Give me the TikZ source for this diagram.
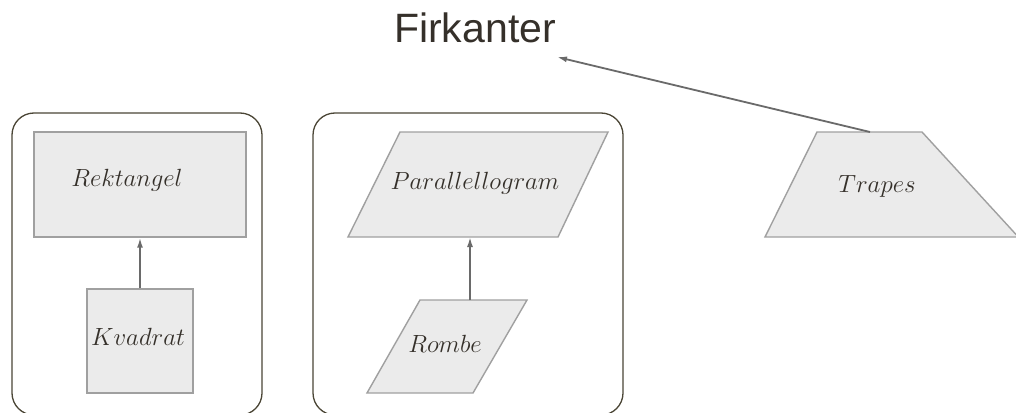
\documentclass[tikz,border=0pt]{standalone}
\usepackage{fontspec}
\newfontfamily\headfont{Liberation Sans}
\usetikzlibrary{arrows.meta}
\definecolor{shapefill}{HTML}{EBEBEB}
\definecolor{shapeline}{HTML}{A0A0A0}
\definecolor{groupline}{HTML}{4B4636}
\definecolor{linkline}{HTML}{6A6A6A}
\definecolor{labeltext}{HTML}{35302A}
\tikzset{
  shapebox/.style={fill=shapefill, draw=shapeline, line width=1.4pt},
  groupbox/.style={draw=groupline, line width=1.3pt, rounded corners=22pt},
  lbl/.style={anchor=base, text=labeltext, inner sep=0pt,
    font=\fontsize{23}{28}\selectfont},
  link/.style={draw=linkline, line width=1.8pt,
    -{Latex[length=10pt,width=6pt]}},
}
\begin{document}
\begin{tikzpicture}[x=1pt,y=-1pt]
\clip (0,0) rectangle (1016,412);
\fill[white] (0,0) rectangle (1016,412);

% title
\node[anchor=base, inner sep=0pt, text=labeltext,
  font=\headfont\fontsize{41}{48}\selectfont] (firk) at (475,43) {Firkanter};
\coordinate (firkend) at (557,57);

% group frames
\draw[groupbox] (12,113) rectangle (262,415);
\draw[groupbox] (313,113) rectangle (623,415);

% rectangle and square
\node[shapebox, minimum width=212pt, minimum height=105pt, inner sep=0pt]
  (rekt) at (140,184.5) {};
\node[shapebox, minimum width=106pt, minimum height=104pt, inner sep=0pt]
  (kvad) at (140,341) {};
\node[lbl] (rektlbl) at (127,186) {$Rektangel$};
\node[lbl] (kvadlbl) at (138,345) {$Kvadrat$};
\draw[link] (kvad.north) -- (rekt.south);

% parallelogram and rhombus
\draw[shapebox] (400,132) -- (608,132) -- (558,237) -- (348,237) -- cycle;
\draw[shapebox] (420,300) -- (527,300) -- (473,393) -- (367,393) -- cycle;
\node[lbl] (paralbl) at (475,189) {$Parallellogram$};
\node[lbl] (rombelbl) at (445,352) {$Rombe$};
\coordinate (parabot) at (470,237);
\coordinate (rombetop) at (470,300);
\draw[link] (rombetop) -- (parabot);

% trapezium
\draw[shapebox] (817,132) -- (922,132) -- (1022,241) -- (1022,237) -- (765,237) -- cycle;
\node[lbl] (traplbl) at (877,192) {$Trapes$};
\coordinate (traptop) at (870,132);
\draw[link] (traptop) -- (firkend);
\end{tikzpicture}
\end{document}
